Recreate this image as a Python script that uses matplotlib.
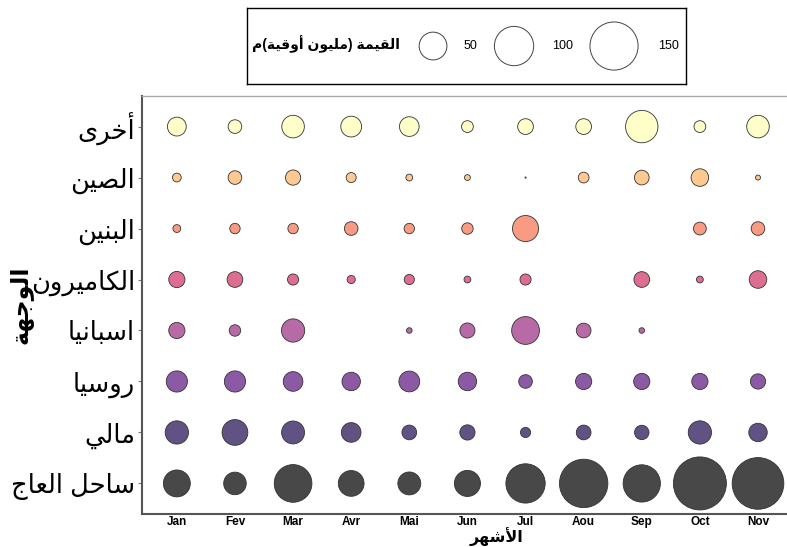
import numpy as np
import matplotlib
matplotlib.use("Agg")
import matplotlib.pyplot as plt

plt.rcParams['font.family'] = ['Liberation Sans', 'DejaVu Sans']

# Arabic letters -> (isolated, final, initial, medial) presentation forms
FORMS = {
    'ا': ('\ufe8d', '\ufe8e', None, None),
    'أ': ('\ufe83', '\ufe84', None, None),
    'ل': ('\ufedd', '\ufede', '\ufedf', '\ufee0'),
    'ق': ('\ufed5', '\ufed6', '\ufed7', '\ufed8'),
    'ي': ('\ufef1', '\ufef2', '\ufef3', '\ufef4'),
    'م': ('\ufee1', '\ufee2', '\ufee3', '\ufee4'),
    'ة': ('\ufe93', '\ufe94', None, None),
    'و': ('\ufeed', '\ufeee', None, None),
    'ن': ('\ufee5', '\ufee6', '\ufee7', '\ufee8'),
    'خ': ('\ufea5', '\ufea6', '\ufea7', '\ufea8'),
    'ر': ('\ufead', '\ufeae', None, None),
    'ى': ('\ufeef', '\ufef0', None, None),
    'ص': ('\ufeb9', '\ufeba', '\ufebb', '\ufebc'),
    'ب': ('\ufe8f', '\ufe90', '\ufe91', '\ufe92'),
    'ك': ('\ufed9', '\ufeda', '\ufedb', '\ufedc'),
    'س': ('\ufeb1', '\ufeb2', '\ufeb3', '\ufeb4'),
    'ح': ('\ufea1', '\ufea2', '\ufea3', '\ufea4'),
    'ع': ('\ufec9', '\ufeca', '\ufecb', '\ufecc'),
    'ج': ('\ufe9d', '\ufe9e', '\ufe9f', '\ufea0'),
    'ه': ('\ufee9', '\ufeea', '\ufeeb', '\ufeec'),
    'ش': ('\ufeb5', '\ufeb6', '\ufeb7', '\ufeb8'),
}
LAM_ALEF = {'ا': ('\ufefb', '\ufefc'), 'أ': ('\ufef7', '\ufef8')}
MIRROR = {'(': ')', ')': '('}


def ar(text):
    # shape Arabic letters and put them in visual (left to right) order
    out = []
    i = 0
    n = len(text)
    while i < n:
        c = text[i]
        prev_joins = i > 0 and text[i - 1] in FORMS and FORMS[text[i - 1]][2] is not None
        if c == 'ل' and i + 1 < n and text[i + 1] in LAM_ALEF:
            iso, fin = LAM_ALEF[text[i + 1]]
            out.append(fin if prev_joins else iso)
            i += 2
            continue
        if c not in FORMS:
            out.append(MIRROR.get(c, c))
            i += 1
            continue
        iso, fin, ini, med = FORMS[c]
        next_ok = ini is not None and i + 1 < n and text[i + 1] in FORMS
        if prev_joins and next_ok:
            out.append(med)
        elif prev_joins:
            out.append(fin)
        elif next_ok:
            out.append(ini)
        else:
            out.append(iso)
        i += 1
    return ''.join(reversed(out))


# Data
months = ['Jan', 'Fev', 'Mar', 'Avr', 'Mai', 'Jun', 'Jul', 'Aou', 'Sep', 'Oct', 'Nov']
destinations = ['ساحل العاج', 'مالي', 'روسيا', 'اسبانيا', 'الكاميرون', 'البنين', 'الصين', 'أخرى']

nan = np.nan
cote_ivoire = [47, 33, 92, 43, 34, 44, 100, 152, 90, 182, 173]
mali = [35, 43, 34, 25, 14, 15, 6.7, 14, 13.4, 35, 22]
russie = [29, 29, 25, 22, 28, 22, 12, 17, 17, 17, 15]
espagne = [17, 8.5, 35, nan, 2, 14.7, 50, 14, 2, nan, nan]
cameroun = [17, 16, 8, 4.3, 6.7, 3, 8, nan, 16, 3, 20]
benin = [4, 7, 7, 12, 7, 8.5, 44, nan, nan, 10.6, 12]
chine = [5, 12, 15, 6.5, 3, 2.2, 0.1, 7.5, 14, 20, 1.6]
autres = [23, 12, 33, 28, 25, 9, 16, 16, 68, 9, 33]
values = [cote_ivoire, mali, russie, espagne, cameroun, benin, chine, autres]

legend_values = [50, 100, 150]

colors = ['#484848', '#605283', '#8c5aa5', '#b76aa5', '#dd6e92', '#f99a82', '#fec990', '#fdfec8']

SIZE = 8.0  # points^2 per unit of value

fig = plt.figure(figsize=(7.87, 5.47), dpi=100)
ax = fig.add_axes([0.1804, 0.0603, 0.9009, 0.7642])

x = np.arange(1, len(months) + 1)
for row, (vals, col) in enumerate(zip(values, colors)):
    vals = np.array(vals, dtype=float)
    ok = ~np.isnan(vals)
    ax.scatter(x[ok], np.full(ok.sum(), row + 1), s=vals[ok] * SIZE, color=col,
               edgecolors='#333333', linewidths=0.6, zorder=3)

ax.set_xlim(0.4, 12.6)
ax.set_ylim(0.4, 8.6)
ax.set_xticks(x)
ax.set_xticklabels(months, fontsize=8.5, fontweight='bold')
ax.set_yticks(np.arange(1, len(destinations) + 1))
ax.set_yticklabels([ar(d) for d in destinations], fontsize=18.5)
ax.tick_params(axis='x', length=0, pad=1.5)
ax.tick_params(axis='y', length=3, color='#777777', pad=2)

for side in ['left', 'bottom']:
    ax.spines[side].set_color('#555555')
    ax.spines[side].set_linewidth(1.5)
ax.spines['top'].set_color('#aaaaaa')
ax.spines['top'].set_linewidth(1.0)
ax.spines['right'].set_visible(False)

ax.set_xlabel(ar('الأشهر'), fontsize=11.5, fontweight='bold', labelpad=-1)
ax.set_ylabel(ar('الوجهة'), fontsize=17, fontweight='bold')
ax.yaxis.set_label_coords(-0.155, 0.5)

# size legend
lax = fig.add_axes([0.3139, 0.8464, 0.5578, 0.1389])
lax.set_xlim(0, 439)
lax.set_ylim(0, 76)
lax.set_xticks([])
lax.set_yticks([])
for s in lax.spines.values():
    s.set_color('black')
    s.set_linewidth(1.0)

key_x = [186, 267, 367]
label_x = [216, 305, 411]
lax.scatter(key_x, [38] * len(legend_values), s=np.array(legend_values) * SIZE,
            facecolors='none', edgecolors='#444444', linewidths=0.7)
for kx, v in zip(label_x, legend_values):
    lax.text(kx, 38, str(v), fontsize=9, va='center', ha='left')
lax.text(153, 40, ar('القيمة (مليون أوقية)م'), fontsize=10, fontweight='bold',
         va='center', ha='right')

fig.savefig('out.png', dpi=100)
